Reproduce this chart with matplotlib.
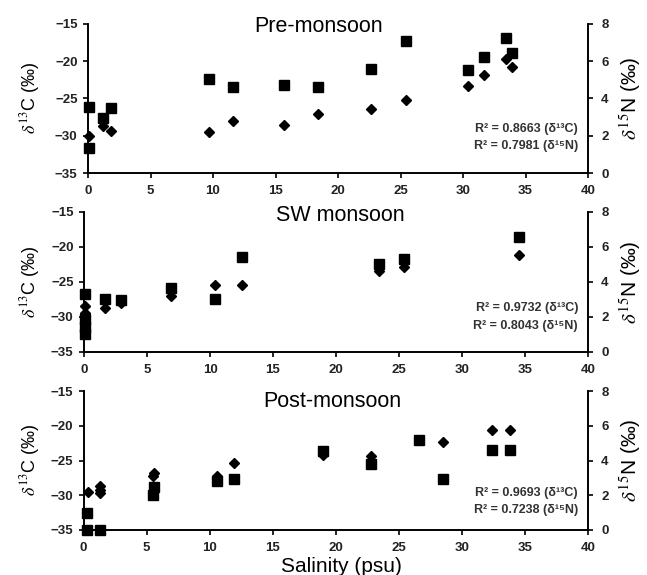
import numpy as np
import matplotlib
matplotlib.use('Agg')
import matplotlib.pyplot as plt

# %% data

# Pre-monsoon
pre_sal_C = [0.1, 1.2, 1.8, 9.7, 11.6, 15.7, 18.4, 22.6, 25.4, 30.4, 31.7, 33.4, 33.9]
pre_d13C = [-30.1, -28.7, -29.3, -29.5, -28.0, -28.5, -27.1, -26.45, -25.25, -23.3, -21.85, -19.7, -20.8]
pre_sal_N = [0.1, 0.1, 1.2, 1.8, 9.7, 11.6, 15.7, 18.4, 22.6, 25.4, 30.4, 31.7, 33.4, 33.9]
pre_d15N = [3.56, 1.33, 2.94, 3.48, 5.05, 4.64, 4.75, 4.6, 5.57, 7.08, 5.52, 6.22, 7.24, 6.43]

# SW monsoon
sw_sal_C = [0.1, 0.1, 0.1, 0.1, 1.7, 2.9, 6.9, 10.4, 12.5, 23.4, 25.4, 34.5]
sw_d13C = [-28.5, -29.5, -30.4, -31.2, -28.7, -27.95, -27.05, -25.5, -25.5, -23.5, -22.9, -21.1]
sw_sal_N = [0.1, 0.1, 0.1, 0.1, 1.7, 2.9, 6.9, 10.4, 12.5, 23.4, 25.4, 34.5]
sw_d15N = [3.3, 1.9, 1.4, 1.0, 3.0, 2.95, 3.65, 3.05, 5.4, 5.05, 5.3, 6.55]

# Post-monsoon
post_sal_C = [0.35, 1.3, 1.3, 1.3, 5.5, 5.6, 10.6, 11.9, 19.0, 22.8, 28.5, 32.4, 33.8]
post_d13C = [-29.6, -28.7, -29.3, -29.7, -27.3, -26.8, -27.2, -25.4, -24.2, -24.4, -22.3, -20.6, -20.6]
post_sal_N = [0.3, 0.3, 1.3, 5.5, 5.6, 10.6, 11.9, 19.0, 22.8, 26.6, 28.5, 32.4, 33.8]
post_d15N = [0.95, 0.0, 0.0, 2.0, 2.5, 2.8, 2.95, 4.55, 3.8, 5.2, 2.95, 4.6, 4.6]

titles = ['Pre-monsoon', 'SW monsoon', 'Post-monsoon']
r2_C = ['0.8663', '0.9732', '0.9693']
r2_N = ['0.7981', '0.8043', '0.7238']

# %% style

plt.rcParams['font.family'] = ['Liberation Sans', 'DejaVu Sans']
plt.rcParams['mathtext.fontset'] = 'stix'
W, H = 647, 575
tick_col = '#222222'

fig = plt.figure(figsize=(W/100, H/100), dpi=100)

# panel boxes in pixels: left, right, top, bottom
boxes = [(88, 588, 24, 173), (84, 588, 212, 352), (83.5, 588, 391, 530)]
title_pos = [(319, 32), (340, 221), (332, 407)]
r2_y = [(129, 146), (308, 326), (493, 510)]
ylab_y = [98, 282, 460]

data = [(pre_sal_C, pre_d13C, pre_sal_N, pre_d15N),
        (sw_sal_C, sw_d13C, sw_sal_N, sw_d15N),
        (post_sal_C, post_d13C, post_sal_N, post_d15N)]

for i, (l, r, t, b) in enumerate(boxes):
    ax = fig.add_axes([l/W, 1 - b/H, (r - l)/W, (b - t)/H])
    ax2 = ax.twinx()
    sal_C, d13C, sal_N, d15N = data[i]

    ax.plot(sal_C, d13C, 'D', color='black', markersize=5.5, clip_on=False, zorder=3)
    ax2.plot(sal_N, d15N, 's', color='black', markersize=7.3, clip_on=False, zorder=3)

    ax.set_xlim(0, 40)
    ax.set_ylim(-35, -15)
    ax2.set_ylim(0, 8)
    ax.set_xticks(np.arange(0, 41, 5))
    ax.set_yticks(np.arange(-35, -14, 5))
    ax2.set_yticks(np.arange(0, 9, 2))

    for a in (ax, ax2):
        a.spines['top'].set_visible(False)
        for s in a.spines.values():
            s.set_linewidth(1.2)
        a.tick_params(length=3.5, width=1.2, labelsize=9.5, labelcolor=tick_col)
        for lab in a.get_xticklabels() + a.get_yticklabels():
            lab.set_fontweight('bold')
    ax.tick_params(axis='x', pad=5)
    ax.tick_params(axis='y', pad=4)
    ax2.tick_params(axis='y', pad=6)

    # title inside the panel
    fig.text(title_pos[i][0]/W, 1 - title_pos[i][1]/H, titles[i], fontsize=15.5,
             ha='center', va='baseline')

    # R2 annotations
    fig.text(578/W, 1 - r2_y[i][0]/H, 'R² = ' + r2_C[i] + ' (δ¹³C)',
             fontsize=9, fontweight='bold', color='#333333', ha='right', va='center')
    fig.text(578/W, 1 - r2_y[i][1]/H, 'R² = ' + r2_N[i] + ' (δ¹⁵N)',
             fontsize=9, fontweight='bold', color='#333333', ha='right', va='center')

    # axis labels
    fig.text(30/W, 1 - ylab_y[i]/H, r'$\delta^{13}$C (‰)', fontsize=13,
             rotation=90, ha='center', va='center')
    fig.text(630/W, 1 - ylab_y[i]/H, r'$\delta^{15}$N (‰)', fontsize=15,
             rotation=90, ha='center', va='center')

fig.text(341/W, 1 - 566/H, 'Salinity (psu)', fontsize=15, ha='center', va='center')

# %% save figure

plt.savefig('out.png', dpi=100)
